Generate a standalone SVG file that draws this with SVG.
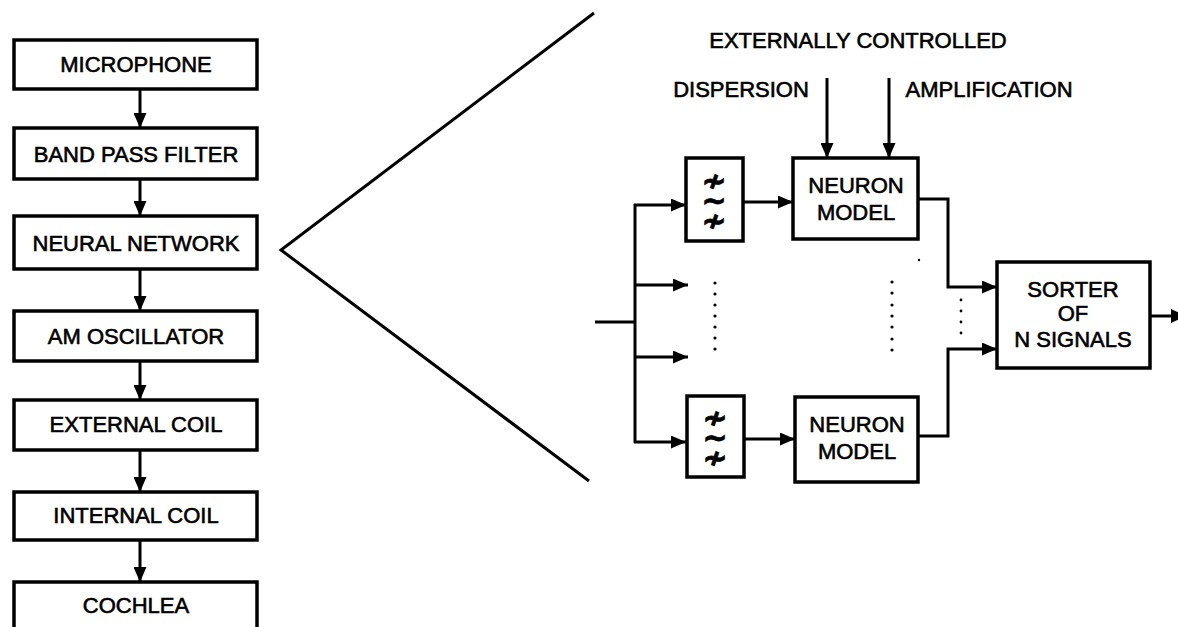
<svg xmlns="http://www.w3.org/2000/svg" width="1178" height="627" viewBox="0 0 1178 627">
<defs>
<style>
.box{fill:#fff;stroke:#000;stroke-width:3.5}
.ln{fill:none;stroke:#000;stroke-width:3}
.t{font-family:"Liberation Sans",Arial,sans-serif;font-size:22px;fill:#000;text-anchor:middle;stroke:#000;stroke-width:0.6}
.sym{font-family:"DejaVu Sans",sans-serif;font-size:30px;font-weight:bold;fill:#000;stroke:#000;stroke-width:0.8;writing-mode:vertical-rl;text-orientation:upright;text-anchor:middle;letter-spacing:-15px}
.dot{fill:#000}
</style>
<marker id="ah" viewBox="0 0 15 13" refX="15" refY="6.5" markerWidth="15" markerHeight="13" markerUnits="userSpaceOnUse" orient="auto">
<path d="M0,0 L15,6.5 L0,13 z" fill="#000"/>
</marker>
</defs>
<rect width="1178" height="627" fill="#fff"/>

<g id="connectors">
<line class="ln" x1="140" y1="89" x2="140" y2="128" marker-end="url(#ah)"/>
<line class="ln" x1="140" y1="179" x2="140" y2="216" marker-end="url(#ah)"/>
<line class="ln" x1="140" y1="269" x2="140" y2="311" marker-end="url(#ah)"/>
<line class="ln" x1="140" y1="361" x2="140" y2="400" marker-end="url(#ah)"/>
<line class="ln" x1="140" y1="450" x2="140" y2="492" marker-end="url(#ah)"/>
<line class="ln" x1="140" y1="540" x2="140" y2="582" marker-end="url(#ah)"/>

<polyline class="ln" points="594,13 281,250 589,481"/>

<line class="ln" x1="595" y1="322" x2="635" y2="322"/>
<line class="ln" x1="635" y1="204" x2="635" y2="443"/>
<line class="ln" x1="634" y1="205" x2="686" y2="205" marker-end="url(#ah)"/>
<line class="ln" x1="634" y1="285" x2="688" y2="285" marker-end="url(#ah)"/>
<line class="ln" x1="634" y1="357" x2="688" y2="357" marker-end="url(#ah)"/>
<line class="ln" x1="634" y1="442" x2="686" y2="442" marker-end="url(#ah)"/>

<line class="ln" x1="743" y1="202" x2="793" y2="202" marker-end="url(#ah)"/>
<line class="ln" x1="744" y1="439" x2="795" y2="439" marker-end="url(#ah)"/>

<line class="ln" x1="827" y1="78" x2="827" y2="158" marker-end="url(#ah)"/>
<line class="ln" x1="889" y1="78" x2="889" y2="158" marker-end="url(#ah)"/>

<polyline class="ln" points="918,199 948,199 948,287 997,287" marker-end="url(#ah)"/>
<polyline class="ln" points="918,436 948,436 948,349 997,349" marker-end="url(#ah)"/>

<line class="ln" x1="1150" y1="316" x2="1172" y2="316"/>
<path d="M1171,309 L1186,316 L1171,323 z" fill="#000"/>

<g class="dot">
<circle cx="715" cy="283" r="1.6"/><circle cx="715" cy="294" r="1.6"/><circle cx="715" cy="305" r="1.6"/><circle cx="715" cy="316" r="1.6"/><circle cx="715" cy="327" r="1.6"/><circle cx="715" cy="338" r="1.6"/><circle cx="715" cy="349" r="1.6"/>
<circle cx="892" cy="282" r="1.6"/><circle cx="892" cy="293" r="1.6"/><circle cx="892" cy="305" r="1.6"/><circle cx="892" cy="316" r="1.6"/><circle cx="892" cy="327" r="1.6"/><circle cx="892" cy="339" r="1.6"/><circle cx="892" cy="350" r="1.6"/>
<circle cx="961" cy="300" r="1.4"/><circle cx="961" cy="311" r="1.4"/><circle cx="961" cy="322" r="1.4"/><circle cx="961" cy="333" r="1.4"/>
<circle cx="919" cy="260" r="1.2"/>
</g>
</g>

<g id="microphone"><rect class="box" x="14" y="40" width="243" height="49"/><text class="t" x="136" y="72">MICROPHONE</text></g>
<g id="bandpass"><rect class="box" x="14" y="128" width="243" height="51"/><text class="t" x="136" y="162">BAND PASS FILTER</text></g>
<g id="neuralnet"><rect class="box" x="14" y="216" width="243" height="53"/><text class="t" x="136" y="251">NEURAL NETWORK</text></g>
<g id="amosc"><rect class="box" x="14" y="311" width="243" height="50"/><text class="t" x="136" y="344">AM OSCILLATOR</text></g>
<g id="extcoil"><rect class="box" x="14" y="400" width="243" height="50"/><text class="t" x="136" y="432">EXTERNAL COIL</text></g>
<g id="intcoil"><rect class="box" x="14" y="492" width="243" height="48"/><text class="t" x="136" y="523">INTERNAL COIL</text></g>
<g id="cochlea"><rect class="box" x="14" y="582" width="243" height="48"/><text class="t" x="136" y="613">COCHLEA</text></g>

<g id="filter1"><rect class="box" x="686" y="158" width="57" height="83"/>
<text class="sym" x="714" y="193">≁~≁</text></g>
<g id="filter2"><rect class="box" x="687" y="396" width="57" height="81"/>
<text class="sym" x="715" y="430">≁~≁</text></g>

<g id="neuron1"><rect class="box" x="793" y="158" width="125" height="81"/><text class="t" x="856" y="193">NEURON</text><text class="t" x="856" y="220">MODEL</text></g>
<g id="neuron2"><rect class="box" x="795" y="397" width="123" height="85"/><text class="t" x="857" y="432">NEURON</text><text class="t" x="857" y="459">MODEL</text></g>

<g id="sorter"><rect class="box" x="997" y="262" width="153" height="106"/>
<text class="t" x="1073" y="297">SORTER</text><text class="t" x="1073" y="321">OF</text><text class="t" x="1073" y="347">N SIGNALS</text></g>

<g id="labels">
<text class="t" x="858" y="48">EXTERNALLY CONTROLLED</text>
<text class="t" x="741" y="97">DISPERSION</text>
<text class="t" x="989" y="97">AMPLIFICATION</text>
</g>
</svg>
